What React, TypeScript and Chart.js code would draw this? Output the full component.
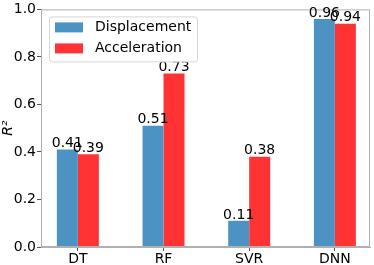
import React, { useEffect, useRef } from "react";
import { Chart, registerables } from "chart.js";

Chart.register(...registerables);

const categories = ["DT", "RF", "SVR", "DNN"];
const displacement = [0.41, 0.51, 0.11, 0.96];
const acceleration = [0.39, 0.73, 0.38, 0.94];
const yTicks = [0, 0.2, 0.4, 0.6, 0.8, 1.0];
const seriesNames = ["Displacement", "Acceleration"];

const BLUE = "#4c92c3";
const RED = "#ff3333";
const FONT = "DejaVu Sans";

const overlayPlugin = {
  id: "overlay",
  afterDatasetsDraw(chart: any) {
    const ctx = chart.ctx;
    const a = chart.chartArea;
    ctx.save();
    // frame
    ctx.strokeStyle = "#b0b0b0";
    ctx.lineWidth = 1;
    ctx.strokeRect(a.left + 0.5, a.top + 0.5, a.right - a.left - 1, a.bottom - a.top - 1);
    // value labels
    ctx.fillStyle = "#000";
    ctx.font = `14px "${FONT}"`;
    ctx.textAlign = "center";
    ctx.textBaseline = "bottom";
    chart.data.datasets.forEach((ds: any, di: number) => {
      const meta = chart.getDatasetMeta(di);
      meta.data.forEach((bar: any, i: number) => {
        const v = ds.data[i].y;
        ctx.fillText(v.toFixed(2), bar.x, bar.y + 1);
      });
    });
    // legend
    const lx = a.left + 8, ly = a.top + 7, lw = 148, lh = 45;
    ctx.beginPath();
    (ctx as any).roundRect(lx + 0.5, ly + 0.5, lw, lh, 3);
    ctx.fillStyle = "rgba(255,255,255,0.8)";
    ctx.fill();
    ctx.strokeStyle = "#d6d6d6";
    ctx.stroke();
    const colors = [BLUE, RED];
    seriesNames.forEach((name, i) => {
      const ry = ly + 6 + i * 21;
      ctx.fillStyle = colors[i];
      ctx.fillRect(lx + 6, ry, 28, 10);
      ctx.fillStyle = "#000";
      ctx.textAlign = "left";
      ctx.textBaseline = "middle";
      ctx.fillText(name, lx + 46, ry + 5);
    });
    ctx.restore();
  },
};

export default function App() {
  const ref = useRef<HTMLCanvasElement>(null);
  useEffect(() => {
    document.body.style.margin = "0";
    const chart = new Chart(ref.current!, {
      type: "bar",
      data: {
        datasets: [
          {
            label: seriesNames[0],
            data: displacement.map((v, i) => ({ x: i, y: v })),
            backgroundColor: BLUE,
            barPercentage: 1,
            categoryPercentage: 0.49,
          },
          {
            label: seriesNames[1],
            data: acceleration.map((v, i) => ({ x: i, y: v })),
            backgroundColor: RED,
            barPercentage: 1,
            categoryPercentage: 0.49,
          },
        ],
      },
      options: {
        responsive: false,
        animation: false,
        layout: { padding: { top: 6, right: 4, left: 0, bottom: 0 } },
        plugins: { legend: { display: false }, tooltip: { enabled: false } },
        scales: {
          x: {
            type: "linear",
            min: -0.43,
            max: 3.41,
            offset: false,
            grid: { drawOnChartArea: false, offset: false, tickLength: 4, color: "#555" },
            border: { color: "#b0b0b0" },
            afterBuildTicks: (s: any) => {
              s.ticks = categories.map((_, i) => ({ value: i }));
            },
            afterFit: (s: any) => {
              s.height = 18;
            },
            ticks: {
              padding: 0,
              color: "#000",
              font: { family: FONT, size: 14 },
              callback: (v: any) => categories[Math.round(v)] ?? "",
              maxRotation: 0,
              autoSkip: false,
            },
          },
          y: {
            min: 0,
            max: 1,
            afterBuildTicks: (s: any) => {
              s.ticks = yTicks.map((v) => ({ value: v }));
            },
            afterFit: (s: any) => {
              s.width = 41;
            },
            grid: { drawOnChartArea: false, tickLength: 4, color: "#555" },
            border: { color: "#b0b0b0" },
            ticks: {
              padding: 1,
              color: "#000",
              font: { family: FONT, size: 14 },
              callback: (v: any) => Number(v).toFixed(1),
            },
            title: {
              display: true,
              text: "R²",
              color: "#000",
              font: { family: FONT, size: 14, style: "italic" },
              padding: { top: 0, bottom: 0 },
            },
          },
        },
      },
      plugins: [overlayPlugin],
    });
    return () => chart.destroy();
  }, []);
  return <canvas ref={ref} width={374} height={265} />;
}
